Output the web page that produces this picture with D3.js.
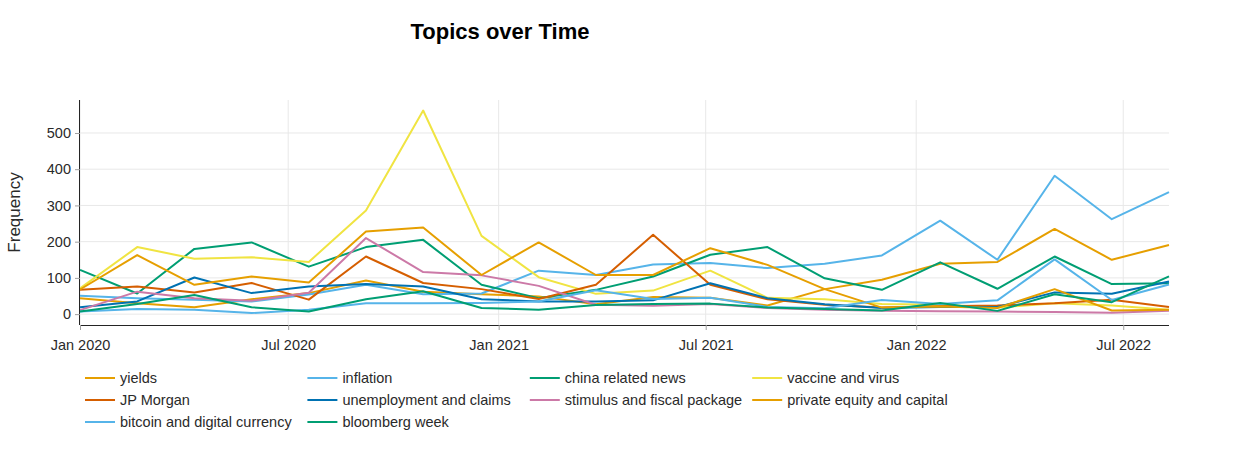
<!DOCTYPE html>
<html>
<head>
<meta charset="utf-8">
<script src="https://cdn.jsdelivr.net/npm/d3@7"></script>
<style>
  body { margin: 0; background: #fff; }
  text { font-family: "Liberation Sans", Arial, sans-serif; }
</style>
</head>
<body>
<div id="chart"></div>
<script>
// Bin timestamps (one per bin, 20 bins)
var dates = ['2020-01-01', '2020-02-20', '2020-04-10', '2020-05-30', '2020-07-19',
  '2020-09-07', '2020-10-27', '2020-12-17', '2021-02-05', '2021-03-27',
  '2021-05-16', '2021-07-05', '2021-08-24', '2021-10-13', '2021-12-02',
  '2022-01-22', '2022-03-13', '2022-05-02', '2022-06-21', '2022-08-10'];

var topicNames = ['yields', 'inflation', 'china related news', 'vaccine and virus',
  'JP Morgan', 'unemployment and claims', 'stimulus and fiscal package',
  'private equity and capital', 'bitcoin and digital currency', 'bloomberg week'];

var yields = [44, 30, 19, 41, 58, 93, 62, 55, 49, 27, 47, 45, 24, 69, 95, 139, 144, 235, 150, 191];
var inflation = [51, 44, 40, 35, 54, 81, 55, 57, 120, 108, 137, 141, 127, 139, 162, 258, 150, 382, 262, 337];
var chinaNews = [122, 57, 180, 198, 131, 185, 205, 81, 44, 67, 104, 164, 185, 99, 67, 143, 70, 159, 83, 85];
var vaccine = [71, 185, 153, 157, 144, 286, 562, 216, 102, 56, 65, 120, 45, 41, 28, 26, 18, 30, 24, 12];
var jpMorgan = [67, 76, 60, 86, 40, 159, 86, 69, 42, 81, 219, 81, 41, 26, 18, 22, 24, 30, 40, 20];
var unemployment = [19, 35, 101, 58, 76, 83, 76, 41, 35, 35, 38, 85, 44, 27, 17, 20, 20, 60, 56, 90];
var stimulus = [11, 62, 44, 37, 59, 210, 116, 107, 78, 26, 23, 28, 17, 12, 9, 8, 7, 6, 4, 9];
var privateEquity = [68, 163, 81, 104, 87, 228, 239, 108, 198, 108, 108, 182, 136, 69, 18, 21, 17, 69, 10, 12];
var bitcoin = [7, 14, 12, 3, 12, 30, 30, 31, 35, 66, 42, 45, 20, 16, 39, 28, 38, 151, 39, 82];
var bloomberg = [7, 28, 53, 19, 7, 41, 63, 17, 12, 25, 28, 29, 18, 14, 10, 31, 9, 55, 33, 104];

var yTicks = [0, 100, 200, 300, 400, 500];

var palette = ['#E69F00', '#56B4E9', '#009E73', '#F0E442', '#D55E00', '#0072B2', '#CC79A7'];

var seriesValues = [yields, inflation, chinaNews, vaccine, jpMorgan, unemployment,
  stimulus, privateEquity, bitcoin, bloomberg];

var opts = {
  width: 1250,
  height: 450,
  margin: { top: 100, right: 81, bottom: 125, left: 80 },
  yDomain: [-30, 591],
  fontSize: '14.5px'
};

var parseDate = d3.timeParse('%Y-%m-%d');
var times = dates.map(parseDate);

var series = topicNames.map(function(name, i) {
  return {
    name: name,
    color: palette[i % palette.length],
    points: seriesValues[i].map(function(v, j) {
      return { date: times[j], value: v };
    })
  };
});

var drawWidth = opts.width - opts.margin.left - opts.margin.right;
var drawHeight = opts.height - opts.margin.top - opts.margin.bottom;

var svg = d3.select('#chart')
  .append('svg')
    .attr('width', opts.width)
    .attr('height', opts.height);

var xScale = d3.scaleTime()
  .domain(d3.extent(times))
  .range([0, drawWidth]);

var yScale = d3.scaleLinear()
  .domain(opts.yDomain)
  .range([drawHeight, 0]);

var xTicks = d3.timeMonth.every(6).range(d3.timeMonth.floor(times[0]), times[times.length - 1]);

var plot = svg.append('g')
  .attr('transform', 'translate(' + opts.margin.left + ',' + opts.margin.top + ')');

// Gridlines
plot.append('g')
  .attr('class', 'x-grid')
  .selectAll('line')
  .data(xTicks)
  .enter()
  .append('line')
    .attr('x1', function(d) { return xScale(d); })
    .attr('x2', function(d) { return xScale(d); })
    .attr('y1', 0)
    .attr('y2', drawHeight)
    .attr('stroke', '#e8e8e8')
    .attr('stroke-width', 1);

plot.append('g')
  .attr('class', 'y-grid')
  .selectAll('line')
  .data(yTicks)
  .enter()
  .append('line')
    .attr('x1', 0)
    .attr('x2', drawWidth)
    .attr('y1', function(d) { return yScale(d); })
    .attr('y2', function(d) { return yScale(d); })
    .attr('stroke', '#e8e8e8')
    .attr('stroke-width', 1);

// Lines
var line = d3.line()
  .x(function(d) { return xScale(d.date); })
  .y(function(d) { return yScale(d.value); });

plot.append('g')
  .attr('class', 'lines')
  .selectAll('path')
  .data(series)
  .enter()
  .append('path')
    .attr('d', function(d) { return line(d.points); })
    .attr('fill', 'none')
    .attr('stroke', function(d) { return d.color; })
    .attr('stroke-width', 2)
    .attr('stroke-linejoin', 'round');

// Axes
var xAxis = d3.axisBottom(xScale)
  .tickValues(xTicks)
  .tickFormat(d3.timeFormat('%b %Y'))
  .tickSizeInner(5)
  .tickSizeOuter(0)
  .tickPadding(4);

var yAxis = d3.axisLeft(yScale)
  .tickValues(yTicks)
  .tickSizeInner(5)
  .tickSizeOuter(0)
  .tickPadding(4);

var xAxisG = plot.append('g')
  .attr('transform', 'translate(0,' + drawHeight + ')')
  .call(xAxis);

var yAxisG = plot.append('g')
  .call(yAxis);

[xAxisG, yAxisG].forEach(function(g) {
  g.select('.domain').attr('stroke', '#242424').attr('stroke-width', 1);
  g.selectAll('.tick line').attr('stroke', '#a0a0a0');
  g.selectAll('.tick text')
    .attr('fill', '#2a2a2a')
    .style('font-size', opts.fontSize);
});

// Plotly-style axis line only along the plotted area
xAxisG.select('.domain').attr('d', 'M0,0.5H' + drawWidth);
yAxisG.select('.domain').attr('d', 'M-0.5,0V' + drawHeight);
xAxisG.selectAll('.tick text').attr('dy', '1.1em');

// Title
svg.append('text')
  .attr('x', 500)
  .attr('y', 39)
  .attr('text-anchor', 'middle')
  .attr('fill', '#000')
  .style('font-size', '22px')
  .style('font-weight', 'bold')
  .text('Topics over Time');

// Y axis title
svg.append('text')
  .attr('transform', 'translate(20,' + (opts.margin.top + drawHeight / 2) + ') rotate(-90)')
  .attr('text-anchor', 'middle')
  .attr('fill', '#2a2a2a')
  .style('font-size', '17px')
  .text('Frequency');

// Legend, 4 entries per row
var legend = svg.append('g')
  .attr('class', 'legend')
  .attr('transform', 'translate(85,378)');

var entries = legend.selectAll('g.entry')
  .data(series)
  .enter()
  .append('g')
    .attr('class', 'entry')
    .attr('transform', function(d, i) {
      return 'translate(' + ((i % 4) * 222.4) + ',' + (Math.floor(i / 4) * 22) + ')';
    });

entries.append('line')
  .attr('x1', 0)
  .attr('x2', 30)
  .attr('y1', 0)
  .attr('y2', 0)
  .attr('stroke', function(d) { return d.color; })
  .attr('stroke-width', 2);

entries.append('text')
  .attr('x', 35)
  .attr('y', 5)
  .attr('fill', '#2a2a2a')
  .style('font-size', opts.fontSize)
  .text(function(d) { return d.name; });
</script>
</body>
</html>
